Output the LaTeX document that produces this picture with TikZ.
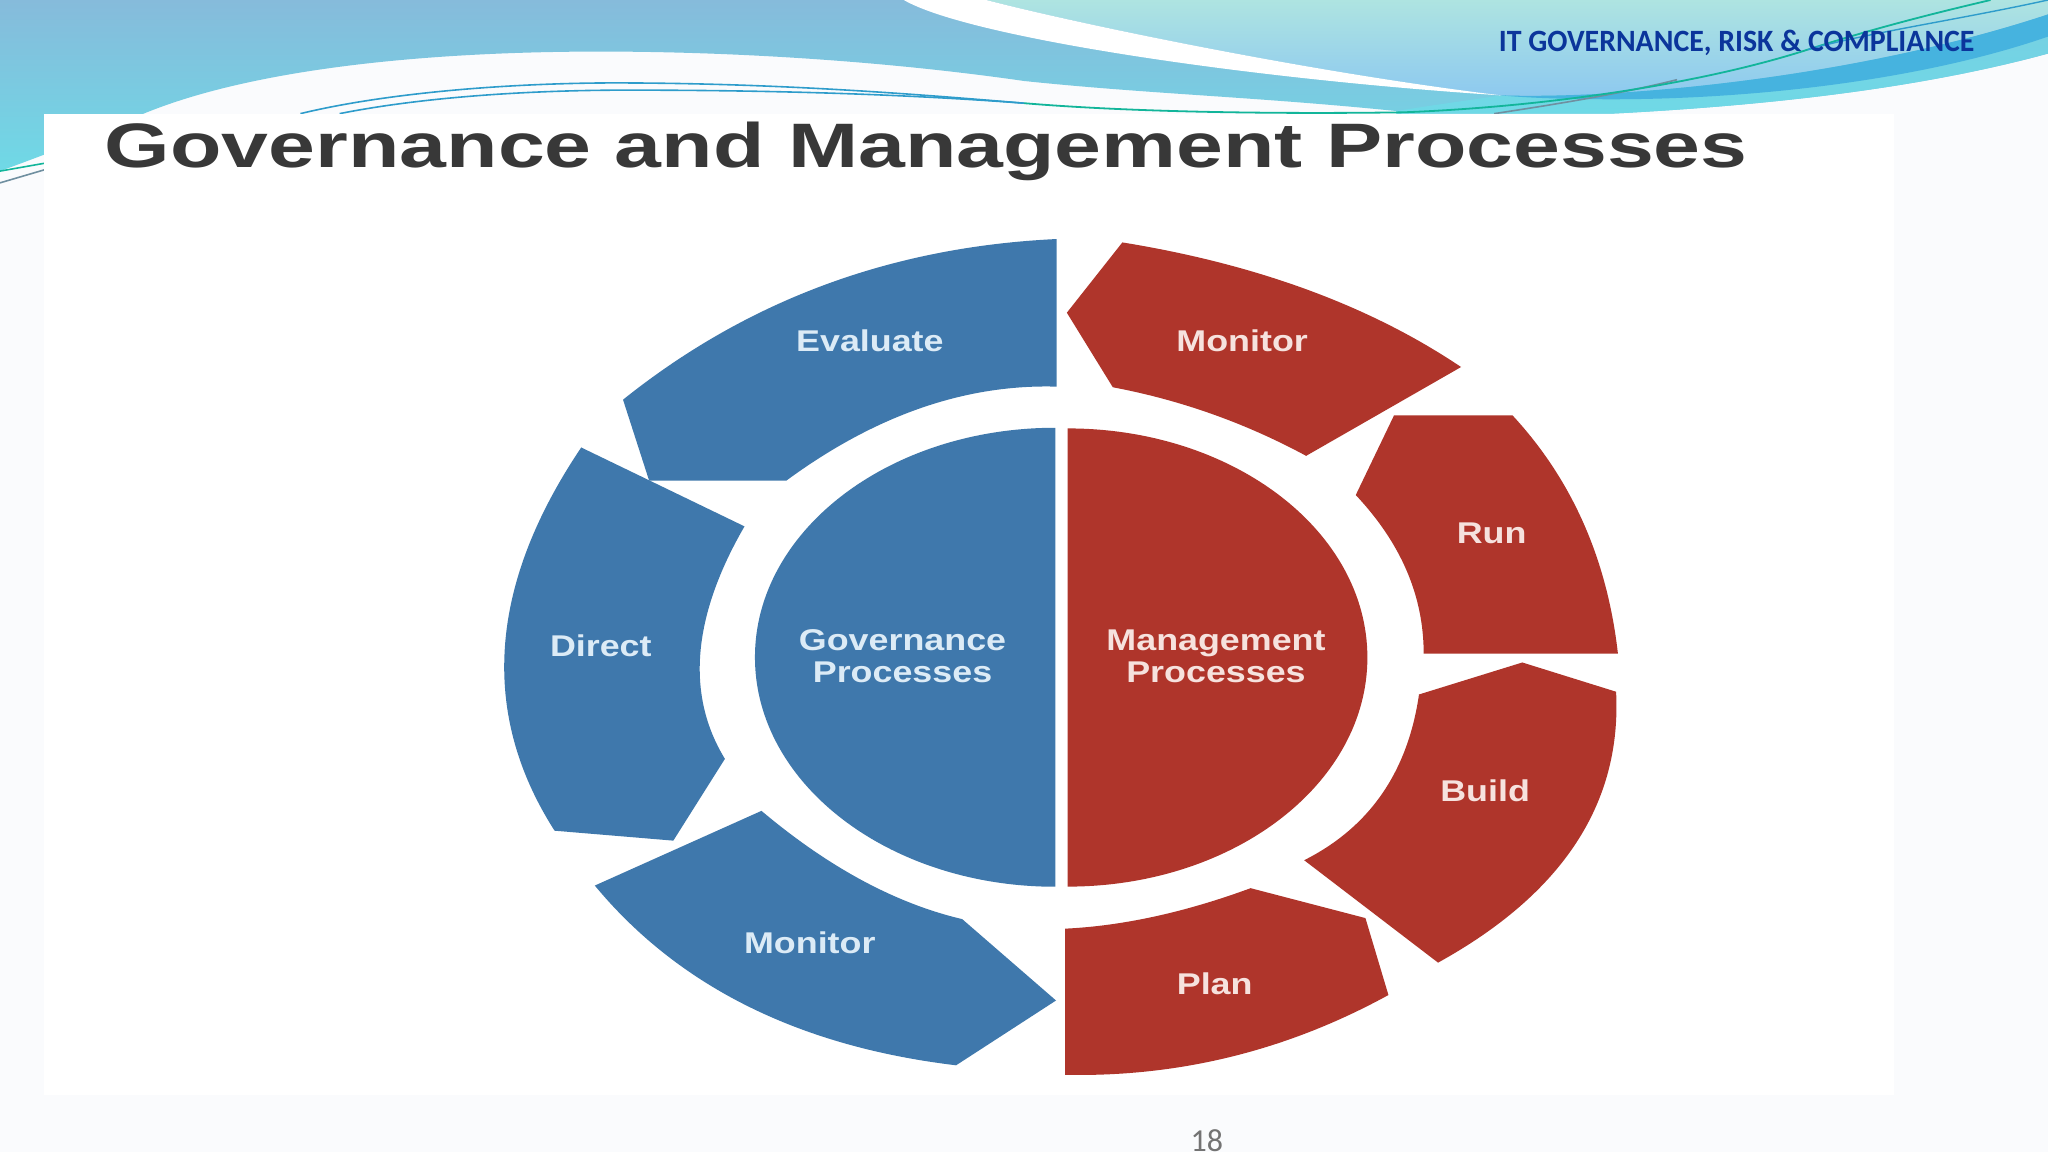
\documentclass[tikz,border=0pt]{standalone}
\usepackage{fontspec}
\usepackage{graphicx}
\setmainfont{Liberation Sans}
\newfontfamily\carlitofont{Carlito}
\definecolor{bluefill}{HTML}{3F78AC}
\definecolor{redfill}{HTML}{AF352B}
\definecolor{bluetext}{HTML}{DCEBF6}
\definecolor{redtext}{HTML}{F6E2DE}
\definecolor{pagebg}{HTML}{FAFBFD}
\definecolor{bandtop}{HTML}{86BBDB}
\definecolor{bandbot}{HTML}{6FD9E6}
\definecolor{paletop}{HTML}{AEE4E1}
\definecolor{palebot}{HTML}{8CC8F0}
\definecolor{stripe}{HTML}{46B3DF}
\definecolor{linegreen}{HTML}{12B59A}
\definecolor{lineblue}{HTML}{2E9CCB}
\definecolor{linegray}{HTML}{6F8FA0}
\definecolor{headtext}{HTML}{0B359B}
\tikzset{
  seg blue/.style={fill=bluefill,draw=none},
  seg red/.style={fill=redfill,draw=none},
  lab/.style={font=\bfseries\fontsize{15}{18}\selectfont,inner sep=0pt,align=center,text height=10.8pt,text depth=0pt},
  lab blue/.style={lab,text=bluetext},
  lab red/.style={lab,text=redtext},
}
\newcommand{\stretched}[1]{\scalebox{1.195}[1]{#1}}
\begin{document}
\begin{tikzpicture}[x=0.65306pt,y=-0.65306pt]
\useasboundingbox (0,0) rectangle (1568,882);
\fill[pagebg] (0,0) rectangle (1568,882);
% header band
\shade[top color=bandtop,bottom color=bandbot]
  (0,0) -- (1568,0) -- (1568,41) .. controls (1480,65) and (1370,80) .. (1234,87)
  -- (1069,87) -- (1069,85) .. controls (960,74) and (880,72) .. (784,62)
  .. controls (680,47) and (560,39) .. (450,39.5)
  .. controls (340,40) and (200,50) .. (110,87)
  .. controls (70,105) and (30,120) .. (0,131) -- cycle;
% brighter band below the stripe
\shade[top color=bandbot!70!bandtop,bottom color=bandbot]
  (1568,20) -- (1568,41) .. controls (1480,65) and (1370,80) .. (1234,87)
  -- (1069,87) -- (1069,85) .. controls (1100,80) and (1130,76) .. (1149,73)
  .. controls (1300,76) and (1450,50) .. (1568,20) -- cycle;
% pale region above swoosh
\shade[top color=paletop,bottom color=palebot]
  (755,0) .. controls (820,17) and (1000,55) .. (1149,73)
  .. controls (1240,76) and (1420,60) .. (1568,11) -- (1568,0) -- cycle;
% stripe
\fill[stripe] (1149,73) .. controls (1240,76) and (1420,60) .. (1568,11)
  -- (1568,28) .. controls (1470,62) and (1340,76) .. (1234,76)
  .. controls (1200,76) and (1170,75) .. (1149,73) -- cycle;
% white swoosh
\fill[white] (692,0) .. controls (740,28) and (950,60) .. (1149,73)
  .. controls (1000,55) and (820,17) .. (755,0) -- cycle;
% thin lines
\draw[linegray,line width=0.8pt] (1144,87) .. controls (1190,80) and (1240,72) .. (1284,61);
\draw[linegray,line width=0.8pt] (0,140) -- (34,130);
\draw[linegreen,line width=0.8pt] (0,131) -- (34,125);
\draw[lineblue,line width=0.8pt] (230,87) .. controls (300,70) and (400,63) .. (480,63.5)
  .. controls (600,64) and (700,72) .. (784,79);
\draw[lineblue,line width=0.8pt] (260,87) .. controls (320,75) and (400,69) .. (480,69)
  .. controls (590,69) and (690,72) .. (784,79);
\draw[linegreen,line width=0.9pt] (784,79) .. controls (880,87) and (1000,87) .. (1074,86)
  .. controls (1180,82) and (1300,65) .. (1384,38)
  .. controls (1440,20) and (1490,8) .. (1524,0);
\draw[lineblue,line width=0.7pt] (1384,38) .. controls (1430,25) and (1500,15) .. (1568,0);
% image panel
\fill[white] (34,87) rectangle (1450,838);
% header texts
\node[anchor=east,inner sep=0pt,text=headtext,font=\carlitofont\bfseries\fontsize{15.5}{18}\selectfont] (head) at (1512,33) {\scalebox{0.963}[1]{IT GOVERNANCE, RISK \& COMPLIANCE}};
\node[anchor=base west,inner sep=0pt,text=black!78,font=\bfseries\fontsize{31.4}{36}\selectfont] (title) at (80,128) {\scalebox{1.341}[1]{Governance and Management Processes}};
% blue segments
\fill[seg blue] (809,183) .. controls (682,189) and (572,230) .. (477,306)
  -- (497,368) -- (602,368) .. controls (670,318) and (739,294) .. (809,296) -- cycle;
\fill[seg blue] (445,342.6) .. controls (374,448) and (367,546) .. (424.6,636)
  -- (515.5,643.6) -- (555,581) .. controls (525,532) and (530,472) .. (570,403) -- cycle;
\fill[seg blue] (455.4,678) .. controls (519.5,755.3) and (611.7,801.2) .. (732,815.6)
  -- (808.5,766) -- (736.7,703.7) .. controls (685.7,691.7) and (634.4,664.1) .. (583,620.8) -- cycle;
\fill[seg blue] (808,327.5) arc[start angle=90,end angle=270,x radius=230,y radius=-175.7] -- cycle;
% red segments
\fill[seg red] (859.3,185.6) .. controls (962.3,202.3) and (1048.9,234.1) .. (1118.6,281)
  -- (1000,349) .. controls (953.3,323.8) and (904,306.3) .. (852,296.5) -- (816.8,239.4) -- cycle;
\fill[seg red] (1067.3,318) -- (1158,318) .. controls (1203.6,367.3) and (1230.5,428.1) .. (1238.7,500.4)
  -- (1090,500.4) .. controls (1090,456.3) and (1072.7,415.9) .. (1038,379) -- cycle;
\fill[seg red] (1165.5,507.2) -- (1237.3,529.6) .. controls (1241.7,615.3) and (1196.2,684.4) .. (1101,737)
  -- (998.5,658.6) .. controls (1048.5,633.4) and (1077.8,591.1) .. (1086.4,531.7) -- cycle;
\fill[seg red] (815.4,711) .. controls (859.5,708.9) and (906.9,698.6) .. (957.5,680)
  -- (1045.4,702.9) -- (1063,761.8) .. controls (985.3,804.4) and (902.7,824.7) .. (815.4,822.9) -- cycle;
\fill[seg red] (817.4,328) arc[start angle=90,end angle=-90,x radius=229.5,y radius=-175.4] -- cycle;
% labels
\node[lab blue] (evaluate) at (666,261) {\stretched{Evaluate}};
\node[lab blue] (direct) at (460,494) {\stretched{Direct}};
\node[lab blue] (monitorb) at (620,722) {\stretched{Monitor}};
\node[lab blue] (gov) at (691,490) {\stretched{Governance}};
\node[lab blue] (govp) at (691,514) {\stretched{Processes}};
\node[lab red] (monitorr) at (951,261) {\stretched{Monitor}};
\node[lab red] (run) at (1142,408) {\stretched{Run}};
\node[lab red] (build) at (1137,605) {\stretched{Build}};
\node[lab red] (plan) at (930,753) {\stretched{Plan}};
\node[lab red] (man) at (931,490) {\stretched{Management}};
\node[lab red] (manp) at (931,514) {\stretched{Processes}};
\node[inner sep=0pt,text=black!55,font=\carlitofont\fontsize{16}{18}\selectfont] (page) at (924,873) {18};
\end{tikzpicture}
\end{document}
